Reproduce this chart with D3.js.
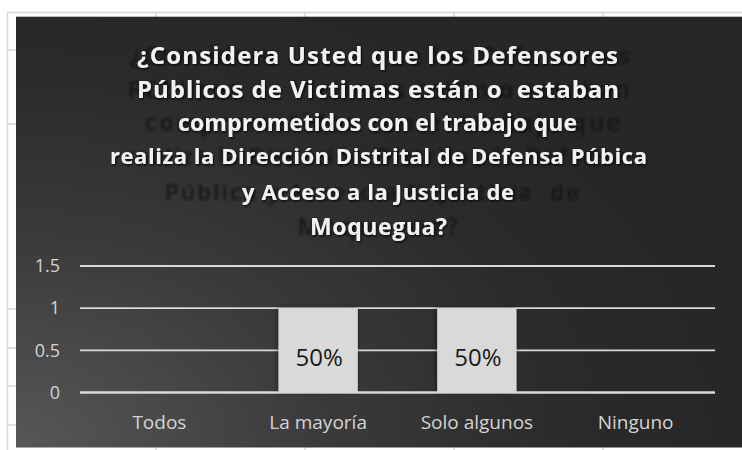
<!DOCTYPE html>
<html><head><meta charset="utf-8">
<script src="https://cdn.jsdelivr.net/npm/d3@7/dist/d3.min.js"></script>
<style>html,body{margin:0;padding:0;background:#fff;overflow:hidden}svg{display:block}</style>
</head><body>
<script>
// ---- data ----
const categories = ["Todos", "La mayoría", "Solo algunos", "Ninguno"];
const values = [0, 1, 1, 0];
const yTicks = [0, 0.5, 1, 1.5];
const titleLines = [
  "¿Considera Usted que los Defensores",
  "Públicos de Victimas están o  estaban",
  "comprometidos con el trabajo que",
  "realiza la Dirección Distrital de Defensa Púbica",
  "y Acceso a la Justicia de",
  "Moquegua?"
];
const shadowLines = [
  "¿Considera Usted que los Defensores",
  "Públicos de Victimas están o estaban",
  "comprometidos con el trabajo que",
  "realiza la Dirección Distrital de Defensa",
  "Pública y Acceso a la Justicia  de",
  "Moquegua?"
];

const W = 742, H = 450;
const svg = d3.select("body").append("svg").attr("width", W).attr("height", H);
const defs = svg.append("defs");

// background gradient
const grad = defs.append("radialGradient").attr("id", "bg")
  .attr("gradientUnits", "userSpaceOnUse")
  .attr("cx", 16).attr("cy", 448).attr("r", 560)
  .attr("gradientTransform", "translate(16,448) scale(1.25,0.85) translate(-16,-448)");
grad.append("stop").attr("offset", 0).attr("stop-color", "#575757");
grad.append("stop").attr("offset", 0.45).attr("stop-color", "#3a3a3a");
grad.append("stop").attr("offset", 0.8).attr("stop-color", "#2a2a2a");
grad.append("stop").attr("offset", 1).attr("stop-color", "#272727");

const fShadow = defs.append("filter").attr("id", "tsh").attr("x", "-10%").attr("y", "-30%").attr("width", "120%").attr("height", "160%");
fShadow.append("feDropShadow").attr("dx", 1).attr("dy", 1.5).attr("stdDeviation", 1.3)
  .attr("flood-color", "#000").attr("flood-opacity", 0.75);
const fBlur = defs.append("filter").attr("id", "blur");
fBlur.append("feGaussianBlur").attr("stdDeviation", 1.0);
const fBar = defs.append("filter").attr("id", "bsh").attr("x", "-20%").attr("y", "-10%").attr("width", "140%").attr("height", "120%");
fBar.append("feDropShadow").attr("dx", -1).attr("dy", 0).attr("stdDeviation", 2.5)
  .attr("flood-color", "#000").attr("flood-opacity", 0.45);

// spreadsheet grid behind
const gridCol = "#d6d6d6";
const sheet = svg.append("g").attr("stroke", gridCol).attr("stroke-width", 1.5);
sheet.append("line").attr("x1", 7.5).attr("x2", W).attr("y1", 12.5).attr("y2", 12.5);
sheet.append("line").attr("x1", 7.5).attr("x2", 7.5).attr("y1", 12.5).attr("y2", H);
[156, 305, 454, 603].forEach(x => {
  sheet.append("line").attr("x1", x).attr("x2", x).attr("y1", 12.5).attr("y2", H);
});
[50, 124, 309, 348, 386, 425].forEach(y => {
  sheet.append("line").attr("x1", 7.5).attr("x2", 16).attr("y1", y).attr("y2", y);
});

// chart area
svg.append("rect").attr("x", 16).attr("y", 16.7).attr("width", W - 16).attr("height", 447.5 - 16.7)
  .attr("fill", "url(#bg)");

// title: shadow echo + white text
const tY = [64, 98, 131, 164, 200, 235];
const tSize = [24, 24, 23, 22, 22, 23];
const whiteSpans = [[137, 618], [137, 619], [178, 577], [110, 647], [242, 514], [310, 447]];
const shadowSpans = [[130, 630], [128, 630], [145, 620], [125, 625], [165, 579], [298, 458]];

svg.append("g").attr("filter", "url(#blur)")
  .selectAll("text").data(shadowLines).join("text")
  .attr("x", (d, i) => (shadowSpans[i][0] + shadowSpans[i][1]) / 2)
  .attr("y", (d, i) => tY[i])
  .attr("text-anchor", "middle")
  .attr("textLength", (d, i) => shadowSpans[i][1] - shadowSpans[i][0])
  .attr("lengthAdjust", "spacing")
  .attr("font-family", "'Open Sans', sans-serif").attr("font-size", (d, i) => tSize[i]).attr("font-weight", 600)
  .attr("fill", "#141414").attr("fill-opacity", 0.85)
  .style("white-space", "pre")
  .text(d => d);

svg.append("g").attr("filter", "url(#tsh)")
  .selectAll("text").data(titleLines).join("text")
  .attr("x", (d, i) => (whiteSpans[i][0] + whiteSpans[i][1]) / 2)
  .attr("y", (d, i) => tY[i])
  .attr("text-anchor", "middle")
  .attr("textLength", (d, i) => whiteSpans[i][1] - whiteSpans[i][0])
  .attr("lengthAdjust", "spacing")
  .attr("font-family", "'Open Sans', sans-serif").attr("font-size", (d, i) => tSize[i]).attr("font-weight", 700)
  .attr("fill", "#f2f2f2")
  .style("white-space", "pre")
  .text(d => d);

// scales
const x = d3.scaleBand().domain(categories).range([80, 715]).paddingInner(0.5).paddingOuter(0.25);
const y = d3.scaleLinear().domain([0, 1.5]).range([392.5, 266]);

// gridlines
svg.append("g").selectAll("line").data(yTicks).join("line")
  .attr("x1", 80).attr("x2", 715)
  .attr("y1", d => y(d)).attr("y2", d => y(d))
  .attr("stroke", "#d9d9d9").attr("stroke-width", 1.8);

// y axis
const yAxis = svg.append("g").attr("transform", "translate(80,0)")
  .call(d3.axisLeft(y).tickValues(yTicks).tickSize(0).tickPadding(20).tickFormat(d3.format("")));
yAxis.select(".domain").remove();
yAxis.selectAll("text").attr("font-family", "'Open Sans', sans-serif").attr("font-size", 18)
  .attr("fill", "#d4d4d4");

// bars
const total = d3.sum(values);
const data = categories.map((c, i) => ({ c, v: values[i] }));
svg.append("g").selectAll("rect").data(data.filter(d => d.v > 0)).join("rect")
  .attr("x", d => x(d.c)).attr("width", x.bandwidth())
  .attr("y", d => y(d.v)).attr("height", d => y(0) - y(d.v))
  .attr("fill", "#d9d9d9").attr("filter", "url(#bsh)");

// redraw zero line over bar bottoms
svg.append("line").attr("x1", 80).attr("x2", 715).attr("y1", y(0)).attr("y2", y(0))
  .attr("stroke", "#d9d9d9").attr("stroke-width", 1.8);

// data labels
const pct = d3.format(".0%");
svg.append("g").selectAll("text").data(data.filter(d => d.v > 0)).join("text")
  .attr("x", d => x(d.c) + x.bandwidth() / 2 + 1)
  .attr("y", d => y(d.v / 2) + 16)
  .attr("text-anchor", "middle")
  .attr("font-family", "'Open Sans', sans-serif").attr("font-size", 24)
  .attr("fill", "#1a1a1a")
  .text(d => pct(d.v / total));

// x axis
const xAxis = svg.append("g").attr("transform", `translate(0,${y(0)})`)
  .call(d3.axisBottom(x).tickSize(0).tickPadding(23));
xAxis.select(".domain").remove();
xAxis.selectAll("text").attr("font-family", "'Open Sans', sans-serif").attr("font-size", 19)
  .attr("fill", "#d4d4d4");
</script>
</body></html>
